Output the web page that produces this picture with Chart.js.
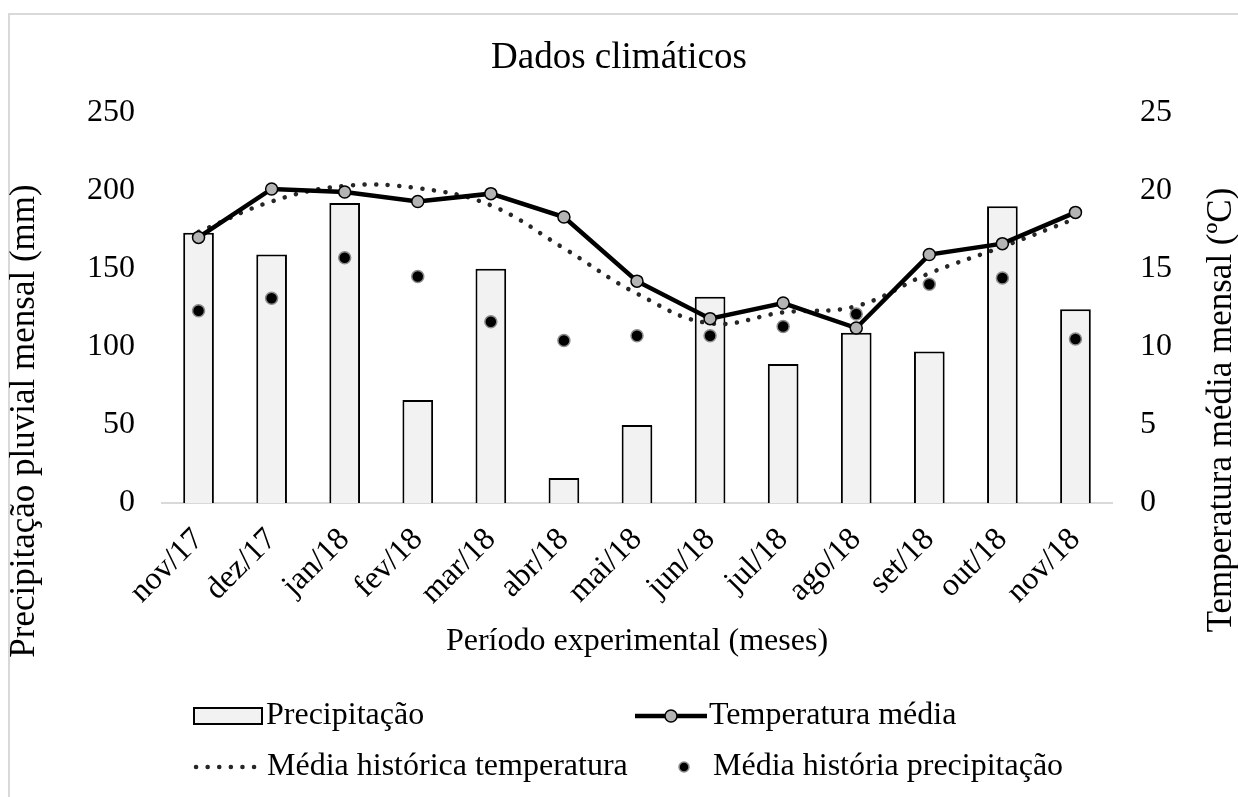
<!DOCTYPE html>
<html>
<head>
<meta charset="utf-8">
<script src="https://cdn.jsdelivr.net/npm/chart.js@4.4.1/dist/chart.umd.min.js"></script>
<style>
  html, body { margin: 0; padding: 0; background: #fff; overflow: hidden; }
  #wrap { position: relative; width: 1238px; height: 797px; }
  #frame { position: absolute; left: 8px; top: 13px; width: 1250px; height: 800px; border: 2px solid #d9d9d9; box-sizing: border-box; }
  canvas { position: absolute; left: 0; top: 0; }
</style>
</head>
<body>
<div id="wrap">
  <div id="frame"></div>
  <canvas id="climaChart" width="1238" height="797"></canvas>
</div>
<script>
var meses = ['nov/17', 'dez/17', 'jan/18', 'fev/18', 'mar/18', 'abr/18', 'mai/18',
  'jun/18', 'jul/18', 'ago/18', 'set/18', 'out/18', 'nov/18'];
// mm
var precipitacao = [173, 159, 192, 66, 150, 16, 50, 132, 89, 109, 97, 190, 124];
var historicoPrecipitacao = [123, 131, 157, 145, 116, 104, 107, 107, 113, 121, 140, 144, 105];
// ºC
var temperatura = [17.0, 20.1, 19.9, 19.3, 19.8, 18.3, 14.2, 11.8, 12.8, 11.2, 15.9, 16.6, 18.6];
var historicoTemperatura = [17.35, 19.3, 20.3, 20.15, 19.05, 16.3, 13.4, 11.5, 12.2, 12.6, 14.7, 16.4, 18.2];

var ticksPrecip = [0, 50, 100, 150, 200, 250];
var ticksTemp = [0, 5, 10, 15, 20, 25];

var fonte = "'Liberation Serif', 'Times New Roman', serif";
var tituloEsq = 'Precipitação pluvial mensal (mm)';
var tituloDir = 'Temperatura média mensal (ºC)';

// legend slots (same order as datasets)
var legendaPos = [
  { x: 194, y: 716, w: 68, tx: 266 },
  { x: 635, y: 716, w: 72, tx: 709 },
  { x: 196, y: 767, w: 62, tx: 267 },
  { x: 684, y: 767, w: 0, tx: 713 }
];

const extras = {
  id: 'extras',
  afterDraw(chart) {
    const ctx = chart.ctx;
    ctx.save();
    ctx.fillStyle = '#000';
    ctx.textBaseline = 'middle';
    ctx.textAlign = 'center';
    ctx.font = '35px ' + fonte;

    ctx.save();
    ctx.translate(25, 421);
    ctx.rotate(-Math.PI / 2);
    ctx.fillText(tituloEsq, 0, 0);
    ctx.restore();

    ctx.save();
    ctx.translate(1222, 410);
    ctx.rotate(-Math.PI / 2);
    ctx.fillText(tituloDir, 0, 0);
    ctx.restore();

    // legenda
    ctx.font = '32px ' + fonte;
    ctx.textAlign = 'left';
    chart.data.datasets.forEach(function (ds, i) {
      var p = legendaPos[i];
      ctx.save();
      if (ds.type === 'bar') {
        ctx.fillStyle = ds.backgroundColor;
        ctx.fillRect(p.x, p.y - 8, p.w, 16);
        ctx.strokeStyle = ds.borderColor;
        ctx.lineWidth = ds.borderWidth;
        ctx.strokeRect(p.x, p.y - 8, p.w, 16);
      } else if (ds.showLine === false) {
        ctx.beginPath();
        ctx.arc(p.x, p.y, ds.pointRadius - 1, 0, Math.PI * 2);
        ctx.fillStyle = ds.pointBackgroundColor;
        ctx.fill();
        ctx.strokeStyle = ds.pointBorderColor;
        ctx.lineWidth = ds.pointBorderWidth;
        ctx.stroke();
      } else {
        ctx.beginPath();
        ctx.moveTo(p.x, p.y);
        ctx.lineTo(p.x + p.w, p.y);
        ctx.strokeStyle = ds.borderColor;
        ctx.lineWidth = ds.borderWidth;
        ctx.lineCap = ds.borderCapStyle || 'butt';
        ctx.setLineDash(ds.borderDash || []);
        ctx.stroke();
        ctx.setLineDash([]);
        if (ds.pointRadius) {
          ctx.beginPath();
          ctx.arc(p.x + p.w / 2, p.y, ds.pointRadius, 0, Math.PI * 2);
          ctx.fillStyle = ds.pointBackgroundColor;
          ctx.fill();
          ctx.strokeStyle = ds.pointBorderColor;
          ctx.lineWidth = ds.pointBorderWidth;
          ctx.stroke();
        }
      }
      ctx.restore();
      ctx.fillStyle = '#000';
      ctx.fillText(ds.label, p.tx, p.y);
    });
    ctx.restore();
  }
};

var ctx = document.getElementById('climaChart').getContext('2d');
var climaChart = new Chart(ctx, {
  data: {
    labels: meses,
    datasets: [{
      type: 'bar',
      label: 'Precipitação',
      data: precipitacao,
      yAxisID: 'y',
      backgroundColor: '#f2f2f2',
      borderColor: '#000',
      borderWidth: 2,
      barPercentage: 0.42,
      categoryPercentage: 1,
      order: 4
    }, {
      type: 'line',
      label: 'Temperatura média',
      data: temperatura,
      yAxisID: 'y1',
      borderColor: '#000',
      borderWidth: 4.5,
      pointRadius: 6,
      pointBackgroundColor: '#b4b4b4',
      pointBorderColor: '#000',
      pointBorderWidth: 1.5,
      tension: 0,
      order: 1
    }, {
      type: 'line',
      label: 'Média histórica temperatura',
      data: historicoTemperatura,
      yAxisID: 'y1',
      borderColor: '#262626',
      borderWidth: 4.5,
      borderDash: [0.1, 11.5],
      borderCapStyle: 'round',
      pointRadius: 0,
      tension: 0.4,
      order: 2
    }, {
      type: 'line',
      label: 'Média história precipitação',
      data: historicoPrecipitacao,
      yAxisID: 'y',
      showLine: false,
      pointRadius: 6,
      pointBackgroundColor: '#000',
      pointBorderColor: '#8c8c8c',
      pointBorderWidth: 1.5,
      order: 3
    }]
  },
  options: {
    responsive: false,
    animation: false,
    layout: { padding: { top: 0, left: 0, right: 0, bottom: 134 } },
    plugins: {
      legend: { display: false },
      tooltip: { enabled: false },
      title: {
        display: true,
        text: 'Dados climáticos',
        color: '#000',
        font: { family: fonte, size: 37, weight: 'normal', lineHeight: 1.2 },
        padding: { top: 36, bottom: 32 }
      }
    },
    scales: {
      x: {
        offset: true,
        grid: { display: false, drawTicks: false },
        border: { display: true, color: '#d9d9d9', width: 2 },
        ticks: {
          color: '#000',
          font: { family: fonte, size: 32 },
          minRotation: 45,
          maxRotation: 45,
          autoSkip: false,
          padding: 18
        },
        title: {
          display: true,
          text: 'Período experimental (meses)',
          color: '#000',
          font: { family: fonte, size: 32 },
          padding: { top: 0, bottom: 2 }
        },
        afterFit: function (s) { s.height = 160; }
      },
      y: {
        position: 'left',
        min: ticksPrecip[0],
        max: ticksPrecip[ticksPrecip.length - 1],
        grid: { display: false, drawTicks: false },
        border: { display: false },
        ticks: {
          stepSize: ticksPrecip[1] - ticksPrecip[0],
          color: '#000',
          font: { family: fonte, size: 32 },
          padding: 27
        },
        afterFit: function (s) { s.width = 162; }
      },
      y1: {
        position: 'right',
        min: ticksTemp[0],
        max: ticksTemp[ticksTemp.length - 1],
        grid: { display: false, drawTicks: false },
        border: { display: false },
        ticks: {
          stepSize: ticksTemp[1] - ticksTemp[0],
          color: '#000',
          font: { family: fonte, size: 32 },
          padding: 28
        },
        afterFit: function (s) { s.width = 126; }
      }
    }
  },
  plugins: [extras]
});
</script>
</body>
</html>
